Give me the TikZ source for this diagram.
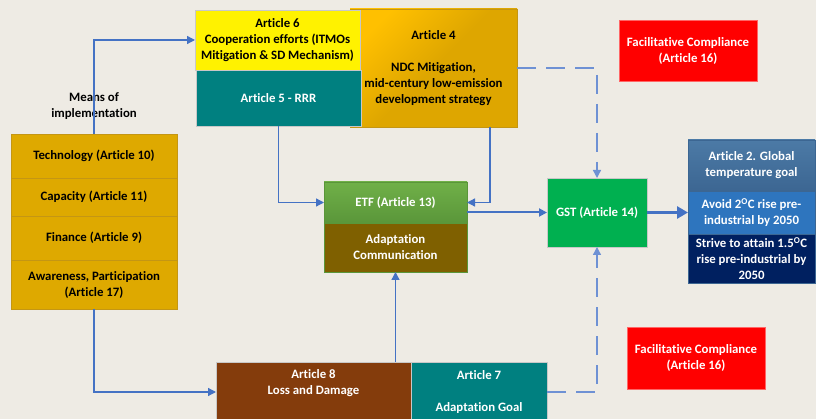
\documentclass[tikz,border=0pt]{standalone}
\usepackage{fontspec}
\setmainfont{Carlito}[Ligatures=NoCommon]
\usetikzlibrary{arrows.meta}

\definecolor{paper}{RGB}{238,235,228}
\definecolor{linkblue}{RGB}{68,114,196}
\definecolor{dashblue}{RGB}{110,145,212}
\definecolor{gold}{RGB}{222,169,0}
\definecolor{goldedge}{RGB}{196,150,20}
\definecolor{goldlight}{RGB}{255,192,0}
\definecolor{golddark}{RGB}{222,166,0}
\definecolor{teal}{RGB}{0,128,128}
\definecolor{rust}{RGB}{132,60,12}
\definecolor{olive}{RGB}{127,96,0}
\definecolor{gstgreen}{RGB}{0,176,80}
\definecolor{etflight}{RGB}{112,176,72}
\definecolor{etfdark}{RGB}{90,150,58}
\definecolor{steellight}{RGB}{76,122,166}
\definecolor{steeldark}{RGB}{60,102,146}
\definecolor{midblue}{RGB}{46,117,190}
\definecolor{navy}{RGB}{0,32,96}
\definecolor{edgegray}{RGB}{200,200,200}

\tikzset{
  box/.style={rectangle, inner sep=2pt, outer sep=0pt, align=center,
    font=\bfseries\fontsize{12.8}{16}\selectfont, line width=0.6pt},
  darkbox/.style={box, text=white},
  stackbox/.style={box, fill=gold, draw=goldedge, minimum width=166pt},
  link/.style={draw=linkblue, line width=1.3pt, -{Triangle[length=8pt,width=8pt]}},
  biglink/.style={draw=linkblue, line width=3pt, -{Triangle[length=11pt,width=12pt]}},
  dashlink/.style={draw=dashblue, line width=1.3pt, dash pattern=on 19pt off 10pt,
    -{Triangle[length=8pt,width=8pt]}},
}

\begin{document}
\begin{tikzpicture}[x=1pt,y=-1pt]
  \clip (0,0) rectangle (816,419);
  \fill[paper] (0,0) rectangle (816,419);

  % NDC block, partly under the cooperation block
  \node[box, minimum width=167pt, minimum height=118pt, draw=goldedge,
        left color=goldlight, right color=golddark, middle color=golddark, shading angle=45]
        (art4) at (433.5,68) {Article 4\\[16pt]NDC Mitigation,\\mid-century low-emission\\development strategy};

  \node[box, fill=yellow, draw=edgegray, minimum width=165pt, minimum height=60pt]
        (art6) at (277.5,40) {Article 6\\Cooperation efforts (ITMOs\\Mitigation \& SD Mechanism)};
  \node[darkbox, fill=teal, draw=edgegray, minimum width=165pt, minimum height=56pt]
        (art5) at (278.5,98) {Article 5 - RRR};

  % compliance boxes
  \node[darkbox, fill=red, draw=red!60!white, minimum width=138pt, minimum height=61pt]
        (fc1) at (688,50.5) {Facilitative Compliance\\(Article 16)};
  \node[darkbox, fill=red, draw=red!60!white, minimum width=138pt, minimum height=62pt]
        (fc2) at (696,358) {Facilitative Compliance\\(Article 16)};

  % means of implementation
  \node[box] (means) at (94,106) {Means of\\implementation};
  \node[stackbox, minimum height=44pt] (tech) at (94,156) {Technology (Article 10)};
  \node[stackbox, minimum height=38pt] (cap) at (94,197) {Capacity (Article 11)};
  \node[stackbox, minimum height=44pt] (fin) at (94,238) {Finance (Article 9)};
  \node[stackbox, minimum height=49pt] (aware) at (94,284.5) {Awareness, Participation\\(Article 17)};

  % transparency framework
  \node[darkbox, minimum width=143pt, minimum height=41pt, draw=etfdark,
        top color=etflight, bottom color=etfdark]
        (etf) at (395.5,202.5) {ETF (Article 13)};
  \node[darkbox, fill=olive, draw=etfdark, minimum width=143pt, minimum height=49pt]
        (adcomm) at (395.5,247.5) {Adaptation\\Communication};

  % global stocktake
  \node[darkbox, fill=gstgreen, draw=edgegray, minimum width=100pt, minimum height=69pt]
        (gst) at (597,212.5) {GST (Article 14)};

  % temperature goal stack
  \node[darkbox, minimum width=127pt, minimum height=51pt, draw=steeldark,
        top color=steellight, bottom color=steeldark]
        (a2top) at (751.5,165.5) {Article 2. Global\\temperature goal};
  \node[darkbox, fill=midblue, draw=steeldark, minimum width=127pt, minimum height=43pt]
        (a2mid) at (751.5,212.5) {Avoid 2\textsuperscript{O}C rise pre-\\industrial by 2050};
  \node[darkbox, fill=navy, draw=steeldark, minimum width=127pt, minimum height=49pt]
        (a2bot) at (751.5,258.5) {Strive to attain 1.5\textsuperscript{O}C\\rise pre-industrial by\\2050};

  % loss and damage / adaptation goal
  \node[darkbox, fill=rust, draw=edgegray, minimum width=195pt, minimum height=60pt]
        (art8) at (313.5,392) {Article 8\\Loss and Damage\\\strut};
  \node[darkbox, fill=teal, draw=edgegray, minimum width=136pt, minimum height=60pt]
        (art7) at (479,392) {Article 7\\[16pt]Adaptation Goal};

  % connectors
  \draw[link] (tech.north) |- (art6.west);
  \draw[link] (aware.south) |- (art8.west);
  \draw[link] (art5.south) |- (etf.west);
  \draw[link] (art4.south east) ++(-27,0) |- (etf.east);
  \draw[link, line width=2pt] (etf.east |- gst.west) -- (gst.west);
  \draw[biglink] (gst.east) -- (a2mid.west);
  \draw[link] (art8.north -| adcomm.south) -- (adcomm.south);
  \draw[dashlink] (art4.east) -- (gst.north |- art4.east) -- (gst.north);
  \draw[dashlink] (art7.east) -- (gst.south |- art7.east) -- (gst.south);
\end{tikzpicture}
\end{document}
